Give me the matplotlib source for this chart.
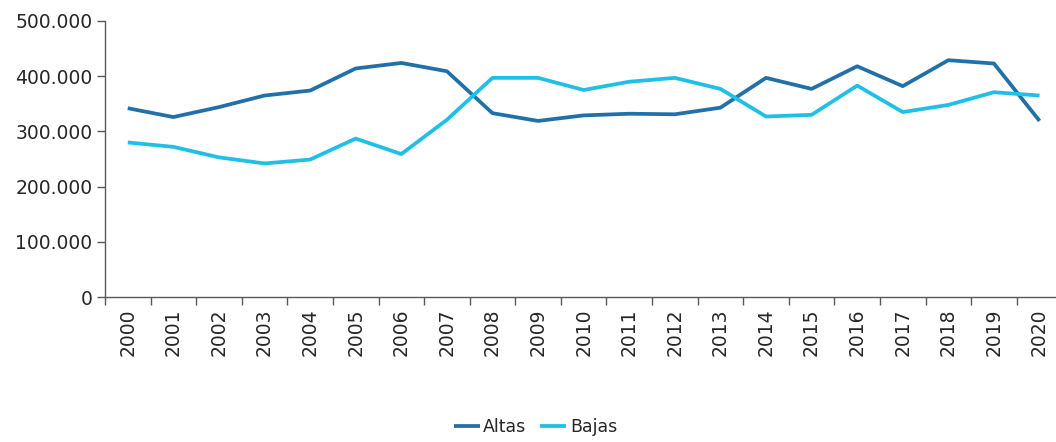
import matplotlib
matplotlib.use("Agg")
import matplotlib.pyplot as plt
from matplotlib.ticker import FuncFormatter
import numpy as np

# Data
years = [str(y) for y in range(2000, 2021)]
altas = [342000, 326000, 344000, 365000, 374000, 414000, 424000, 409000, 333000, 319000,
         329000, 332000, 331000, 343000, 397000, 377000, 418000, 382000, 429000, 423000, 319000]
bajas = [280000, 272000, 253000, 242000, 249000, 287000, 259000, 321000, 397000, 397000,
         375000, 390000, 397000, 377000, 327000, 330000, 383000, 335000, 348000, 371000, 365000]

text_color = "#262626"
axis_color = "#595959"

fig = plt.figure(figsize=(10.56, 4.42), dpi=100)
ax = fig.add_axes([0.0994, 0.328, 0.9066, 0.6245])

x = np.arange(len(years))
ax.plot(x, altas, color="#2170a8", lw=2.7, label="Altas", solid_capstyle="butt")
ax.plot(x, bajas, color="#1fbfe6", lw=2.7, label="Bajas", solid_capstyle="butt")

ax.set_xlim(-0.5, len(years) - 0.5)
ax.set_ylim(0, 500000)
ax.set_yticks(np.arange(0, 500001, 100000))
ax.yaxis.set_major_formatter(FuncFormatter(lambda v, p: f"{int(v):,}".replace(",", ".")))

# tick marks between categories, labels in the middle (Excel style)
ax.set_xticks(np.arange(-0.5, len(years), 1.0))
ax.set_xticklabels([])
ax.set_xticks(x, minor=True)
ax.set_xticklabels(years, minor=True, rotation=90)
ax.tick_params(axis="x", which="major", length=6, color=axis_color, width=1)
ax.tick_params(axis="x", which="minor", length=0, pad=8, labelsize=13.5, labelcolor=text_color)
ax.tick_params(axis="y", length=6, color=axis_color, width=1, labelsize=13.5,
               labelcolor=text_color, pad=3)

for side in ["top", "right"]:
    ax.spines[side].set_visible(False)
for side in ["left", "bottom"]:
    ax.spines[side].set_color(axis_color)
    ax.spines[side].set_linewidth(1)

leg = fig.legend(loc="lower center", bbox_to_anchor=(0.507, -0.022), ncol=2, frameon=False,
                 fontsize=12.5, handlelength=1.5, handletextpad=0.2, columnspacing=0.8)
for t in leg.get_texts():
    t.set_color(text_color)

fig.savefig("out.png", dpi=100)
